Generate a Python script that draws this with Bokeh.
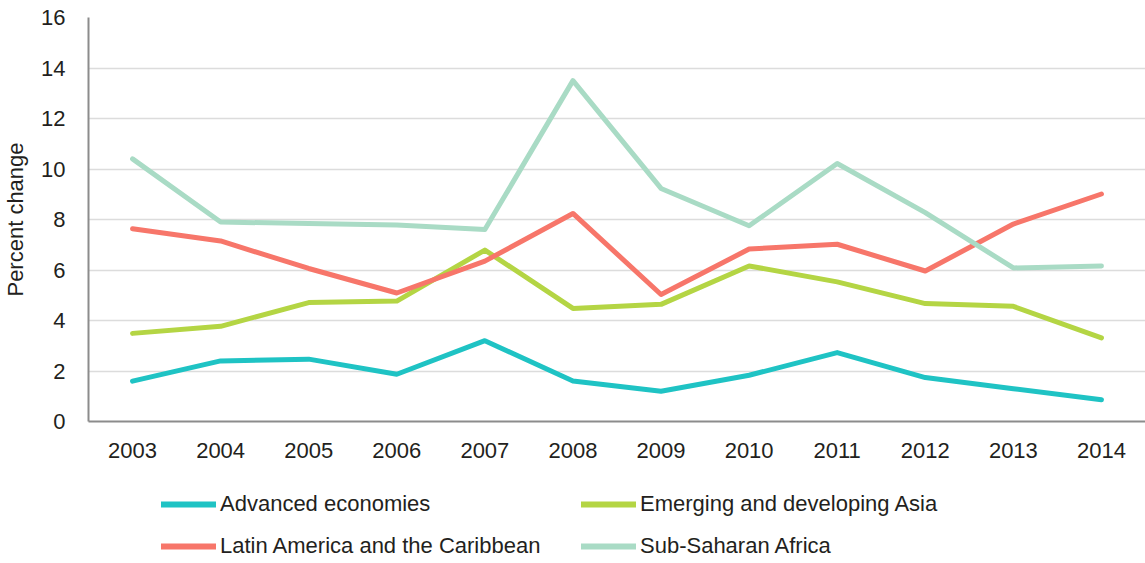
from bokeh.plotting import figure
from bokeh.models import FactorRange, Range1d, Legend, LegendItem, FixedTicker
from bokeh.layouts import column
from bokeh.embed import file_html
from bokeh.resources import INLINE

years = ["2003", "2004", "2005", "2006", "2007", "2008", "2009", "2010", "2011", "2012", "2013", "2014"]
advanced = [1.6, 2.4, 2.47, 1.87, 3.2, 1.6, 1.2, 1.83, 2.73, 1.74, 1.3, 0.86]
asia = [3.49, 3.77, 4.71, 4.77, 6.79, 4.48, 4.64, 6.16, 5.53, 4.67, 4.56, 3.31]
latam = [7.63, 7.15, 6.06, 5.09, 6.35, 8.24, 5.03, 6.83, 7.02, 5.96, 7.82, 9.01]
ssa = [10.40, 7.9, 7.84, 7.78, 7.6, 13.5, 9.23, 7.75, 10.22, 8.27, 6.08, 6.16]
series_names = ["Advanced economies", "Emerging and developing Asia",
                "Latin America and the Caribbean", "Sub-Saharan Africa"]
y_ticks = [0, 2, 4, 6, 8, 10, 12, 14, 16]

colors = ["#1fc3c4", "#b4d544", "#f7766a", "#a9dbc5"]
FONT = "Liberation Sans"
TXT = "#231f20"
FS = "22px"

p = figure(width=1145, height=466, x_range=FactorRange(*years, range_padding=0),
           y_range=Range1d(0, 16), output_backend="svg", toolbar_location=None,
           min_border_left=88, min_border_right=0, min_border_top=17, min_border_bottom=45)
p.outline_line_color = None
p.background_fill_color = "white"
p.border_fill_color = "white"

p.xgrid.grid_line_color = None
p.ygrid.grid_line_color = "#dcdcdc"
p.ygrid.grid_line_width = 1.5

p.yaxis.ticker = FixedTicker(ticks=y_ticks)
p.yaxis.axis_label = "Percent change"
p.yaxis.axis_label_text_font = FONT
p.yaxis.axis_label_text_font_size = FS
p.yaxis.axis_label_text_font_style = "normal"
p.yaxis.axis_label_text_color = TXT
p.yaxis.axis_label_standoff = 10
for ax in (p.xaxis, p.yaxis):
    ax.major_label_text_font = FONT
    ax.major_label_text_font_size = FS
    ax.major_label_text_color = TXT
    ax.major_tick_line_color = None
    ax.minor_tick_line_color = None
    ax.axis_line_color = "#8c8c8c"
    ax.axis_line_width = 2
p.yaxis.major_label_standoff = 17
p.xaxis.major_label_standoff = 15

for vals, c in zip([advanced, asia, latam, ssa], colors):
    p.line(years, vals, line_color=c, line_width=5, line_join="round", line_cap="round")

# legend panel (renderers lie outside the visible range; only their legend glyphs show)
pl = figure(width=1145, height=97, x_range=Range1d(0, 1), y_range=Range1d(0, 1),
            x_axis_type=None, y_axis_type=None, output_backend="svg", toolbar_location=None,
            min_border=0)
pl.outline_line_color = None
pl.grid.visible = False
leg_r = [pl.line(x=[5, 6], y=[5, 6], line_color=c, line_width=6, line_cap="round") for c in colors]

def make_legend(idx, x):
    lg = Legend(items=[LegendItem(label=series_names[i], renderers=[leg_r[i]]) for i in idx],
                location=(x, 4), orientation="vertical")
    lg.glyph_width = 55
    lg.glyph_height = 20
    lg.label_height = 20
    lg.label_standoff = 4
    lg.spacing = 16
    lg.padding = 0
    lg.margin = 0
    lg.border_line_color = None
    lg.background_fill_alpha = 0
    lg.label_text_font = FONT
    lg.label_text_font_size = FS
    lg.label_text_color = TXT
    return lg

pl.add_layout(make_legend([0, 2], 73))
pl.add_layout(make_legend([1, 3], 493))

layout = column(p, pl, spacing=0)
open("out.html", "w").write(file_html(layout, INLINE))
